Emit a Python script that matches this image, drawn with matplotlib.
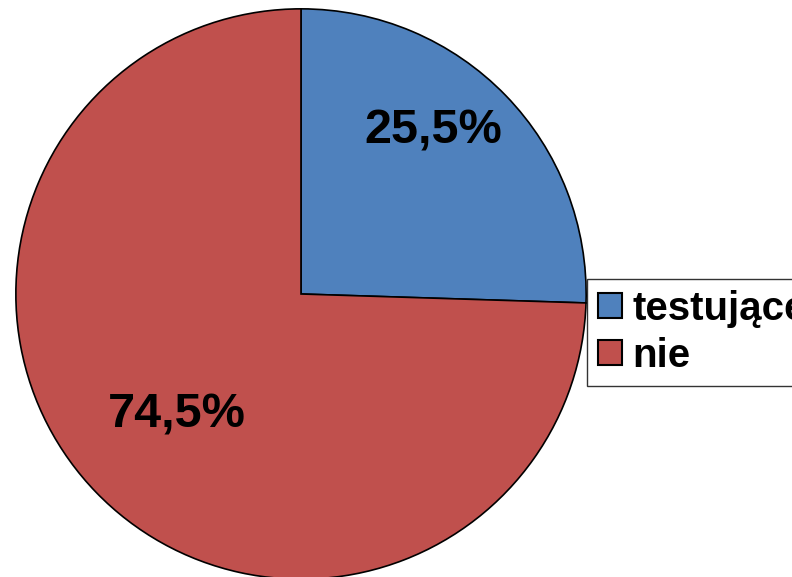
import matplotlib.pyplot as plt
import numpy as np

# ====== データ ======
labels = ["testujące", "nie"]
values = [25.5, 74.5]
pct_text = ["25,5%", "74,5%"]
colors = ["#4F81BD", "#C0504D"]

plt.rcParams["font.family"] = ["Liberation Sans", "DejaVu Sans"]

fig = plt.figure(figsize=(7.92, 5.77), dpi=100)
ax = fig.add_axes([15 / 792, -3 / 577, 572 / 792, 572 / 577])

wedges, _ = ax.pie(
    values,
    colors=colors,
    startangle=90,
    counterclock=False,
    radius=1.0,
    wedgeprops=dict(edgecolor="black", linewidth=1.2),
)
ax.set_xlim(-1.003, 1.003)
ax.set_ylim(-1.003, 1.003)
ax.set_aspect("auto")

# ====== ラベル ======
label_pos = [(0.465, 0.573), (-0.434, -0.423)]
for txt, (x, y) in zip(pct_text, label_pos):
    ax.text(x, y, txt, ha="center", va="center",
            fontsize=35, fontweight="bold", color="black")

# ====== 凡例 ======
leg = fig.legend(
    wedges, labels,
    loc="upper left",
    bbox_to_anchor=(587 / 792, 1 - 279 / 577),
    prop=dict(weight="bold", size=29),
    frameon=True,
    fancybox=False,
    edgecolor="black",
    handlelength=0.6,
    handleheight=0.57,
    handletextpad=0.25,
    borderpad=0.27,
    labelspacing=0.22,
    borderaxespad=0,
)
leg.get_frame().set_linewidth(1.0)
for h in leg.legend_handles:
    h.set_edgecolor("black")
    h.set_linewidth(1.5)

fig.savefig("out.png", dpi=100)
